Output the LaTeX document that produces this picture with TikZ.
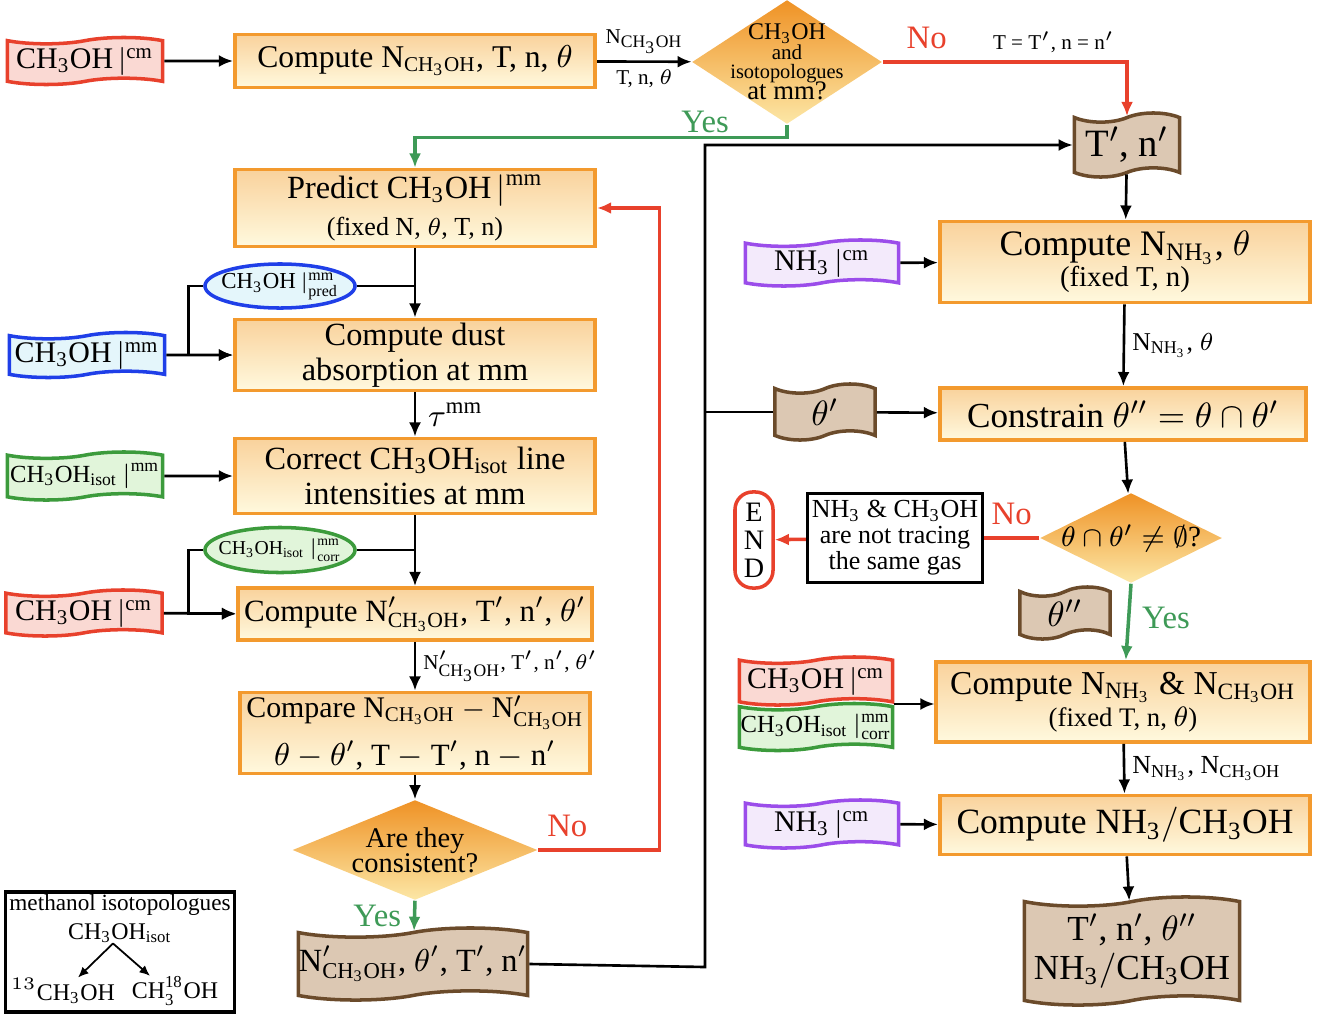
\documentclass[tikz,border=0pt]{standalone}
\usepackage{amsmath}
\usepackage{fontspec}
\setmainfont{Liberation Serif}
\usetikzlibrary{shapes.geometric,shapes.symbols,arrows.meta}

\definecolor{procb}{HTML}{F39A2E}
\definecolor{proct}{HTML}{F9D29C}
\definecolor{procf}{HTML}{FFF9DE}
\definecolor{dect}{HTML}{EF9225}
\definecolor{decf}{HTML}{FCE7A6}
\definecolor{redb}{HTML}{E8412C}
\definecolor{redf}{HTML}{FAD9D3}
\definecolor{blueb}{HTML}{1F3FE8}
\definecolor{bluef}{HTML}{E4F6FB}
\definecolor{greenb}{HTML}{3C9B3C}
\definecolor{greenf}{HTML}{E1F5DA}
\definecolor{purpb}{HTML}{9B4DEA}
\definecolor{purpf}{HTML}{F3EAFB}
\definecolor{brownb}{HTML}{6B4B2B}
\definecolor{brownf}{HTML}{DCC8B3}
\definecolor{yesc}{HTML}{3E9A57}
\definecolor{noc}{HTML}{E8412C}

\newcommand{\meoh}{\mathrm{CH_3OH}}
\newcommand{\isot}{\mathrm{CH_3OH_{isot}}}
\newcommand{\amm}{\mathrm{NH_3}}
\newcommand{\fs}[1]{\fontsize{#1}{#1}\selectfont}

\begin{document}
\begin{tikzpicture}[x=0.01cm, y=-0.01cm, font=\fs{9},
		proc/.style={rectangle, draw=procb, line width=1.1pt, top color=proct, bottom color=procf, inner sep=0pt, align=center},
		dec/.style={diamond, top color=dect, bottom color=decf, inner sep=0pt},
		tdoc/.style={tape, line width=1pt, inner sep=0pt, tape bend height=1.8pt, align=center, font=\fs{8.5}},
		reddoc/.style={tdoc, draw=redb, fill=redf},
		bluedoc/.style={tdoc, draw=blueb, fill=bluef},
		greendoc/.style={tdoc, draw=greenb, fill=greenf},
		purpdoc/.style={tdoc, draw=purpb, fill=purpf},
		browndoc/.style={tdoc, draw=brownb, fill=brownf, tape bend height=2.6pt},
		arr/.style={-{Latex[length=4pt,width=3.4pt]}, line width=0.75pt},
		yesl/.style={arr, draw=yesc, line width=1pt},
		nol/.style={arr, draw=noc, line width=1pt},
		lbl/.style={font=\fs{6}, inner sep=2pt},
		yes/.style={text=yesc, font=\fs{9.3}},
		no/.style={text=noc, font=\fs{9.3}}]
	\useasboundingbox (0,0) rectangle (1318,1015);

	% left column
	\node[reddoc, minimum width=1.55cm, minimum height=0.47cm] (c1d) at (85,61) {$\meoh\,|^{\mathrm{cm}}$};
	\node[proc, minimum width=3.6cm, minimum height=0.53cm] (c1) at (415,61) {Compute $\mathrm{N}_{\meoh}$, T, n, $\theta$};
	\node[dec, minimum width=1.9cm, minimum height=1.24cm,
		label={[align=center, font=\fs{7}, inner sep=0pt]center:{\fs{6.8}$\meoh$\\[-1.4pt]\fs{6}and\\[-1.6pt]\fs{5.8}isotopologues\\[-1pt]\fs{7.6}at mm?}}] (d1) at (787,62) {};
	\node[proc, minimum width=3.6cm, minimum height=0.77cm] (p1) at (415,208) {\fs{9.2}Predict $\meoh\,|^{\mathrm{mm}}$\\[1.5pt]\fs{7.4}(fixed N, $\theta$, T, n)};
	\node[ellipse, draw=blueb, fill=bluef, line width=1pt, minimum width=1.5cm, minimum height=0.44cm, inner sep=0pt,
		label={[font=\fs{6.5}, inner sep=0pt]center:{$\meoh\,|^{\mathrm{mm}}_{\mathrm{pred}}$}}] (e1) at (280,286) {};
	\node[bluedoc, minimum width=1.55cm, minimum height=0.45cm] (m1) at (87,355) {$\meoh\,|^{\mathrm{mm}}$};
	\node[proc, minimum width=3.6cm, minimum height=0.71cm] (cd) at (415,355) {\fs{9.2}Compute dust\\[1pt]\fs{9.2}absorption at mm};
	\node[proc, minimum width=3.6cm, minimum height=0.75cm] (cc) at (415,476) {\fs{9.2}Correct $\isot$ line\\[1pt]\fs{9.2}intensities at mm};
	\node[greendoc, minimum width=1.55cm, minimum height=0.48cm, font=\fs{7}] (i1) at (85,476) {$\isot\,|^{\mathrm{mm}}$};
	\node[ellipse, draw=greenb, fill=greenf, line width=1pt, minimum width=1.5cm, minimum height=0.45cm, inner sep=0pt,
		label={[font=\fs{5.6}, inner sep=0pt]center:{$\isot\,|^{\mathrm{mm}}_{\mathrm{corr}}$}}] (e2) at (280,550) {};
	\node[reddoc, minimum width=1.56cm, minimum height=0.46cm] (m3) at (84,613) {$\meoh\,|^{\mathrm{cm}}$};
	\node[proc, minimum width=3.54cm, minimum height=0.52cm] (cp) at (415,614) {\fs{8.8}Compute $\mathrm{N}'_{\meoh}$, T$'$, n$'$, $\theta'$};
	\node[proc, minimum width=3.5cm, minimum height=0.81cm] (cmp) at (415,733) {\fs{8.5}Compare $\mathrm{N}_{\meoh}-\mathrm{N}'_{\meoh}$\\[2pt]\fs{8.8}$\theta-\theta'$, T $-$ T$'$, n $-$ n$'$};
	\node[dec, minimum width=2.45cm, minimum height=1cm,
		label={[align=center, font=\fs{8.1}, inner sep=0pt]center:{Are they\\[-1pt]consistent?}}] (d3) at (415,850) {};
	\node[browndoc, minimum width=2.29cm, minimum height=0.72cm, font=\fs{9.2}] (nd) at (413,964) {$\mathrm{N}'_{\meoh}$, $\theta'$, T$'$, n$'$};
	\coordinate (tr) at (705,967);

	% legend
	\node[draw, line width=0.9pt, minimum width=2.29cm, minimum height=1.2cm] (lg) at (120,952) {};
	\node[font=\fs{6.6}, inner sep=0pt] (lg1) at (120,905) {methanol isotopologues};
	\node[font=\fs{6.8}, inner sep=0pt] (lg2) at (120,933) {$\isot$};
	\node[font=\fs{6.8}, inner sep=0pt] (lg3) at (63,991) {$^{13}\meoh$};
	\node[font=\fs{6.8}, inner sep=0pt] (lg4) at (175,991) {$\mathrm{CH_3^{18}OH}$};

	% right column
	\node[browndoc, minimum width=1.05cm, minimum height=0.64cm, font=\fs{11}] (tn) at (1127,145) {T$'$, n$'$};
	\node[proc, minimum width=3.7cm, minimum height=0.81cm] (cn) at (1125,262) {\fs{10.2}Compute $\mathrm{N}_{\amm}$, $\theta$\\[0pt]\fs{8.2}(fixed T, n)};
	\node[purpdoc, minimum width=1.53cm, minimum height=0.46cm] (nh1) at (822,263) {$\amm\,|^{\mathrm{cm}}$};
	\node[proc, minimum width=3.66cm, minimum height=0.52cm, font=\fs{10}] (cs) at (1123,414) {Constrain $\theta''=\theta\cap\theta'$};
	\node[browndoc, minimum width=1cm, minimum height=0.56cm, font=\fs{10}] (th1) at (825,412) {$\theta'$};
	\node[dec, minimum width=1.82cm, minimum height=0.9cm,
		label={[font=\fs{8.3}, inner sep=0pt]center:{$\theta\cap\theta'\neq\emptyset$?}}] (d2) at (1131,538) {};
	\node[draw, line width=0.9pt, fill=white, minimum width=1.75cm, minimum height=0.89cm, inner sep=0pt, align=center, font=\fs{7.4}] (ng) at (895,538) {$\amm$ \& $\meoh$\\[0pt]are not tracing\\[0pt]the same gas};
	\node[draw=noc, line width=1pt, rounded corners=5pt, minimum width=0.38cm, minimum height=0.96cm, inner sep=0pt, align=center, font=\fs{8}] (end) at (754,540) {E\\[0pt]N\\[0pt]D};
	\node[browndoc, minimum width=0.9cm, minimum height=0.52cm, font=\fs{10}] (th2) at (1065,613) {$\theta''$};
	\node[proc, minimum width=3.73cm, minimum height=0.8cm] (cb) at (1123,702) {\fs{9.5}Compute $\mathrm{N}_{\amm}$ \& $\mathrm{N}_{\meoh}$\\[0pt]\fs{7.6}(fixed T, n, $\theta$)};
	\node[reddoc, minimum width=1.53cm, minimum height=0.48cm] (m2) at (816,681) {$\meoh\,|^{\mathrm{cm}}$};
	\node[greendoc, minimum width=1.53cm, minimum height=0.47cm, font=\fs{7}] (i2) at (816,727) {$\isot\,|^{\mathrm{mm}}_{\mathrm{corr}}$};
	\node[proc, minimum width=3.7cm, minimum height=0.59cm, font=\fs{10.1}] (cr) at (1125,825) {Compute $\amm/\meoh$};
	\node[purpdoc, minimum width=1.53cm, minimum height=0.48cm] (nh2) at (822,824) {$\amm\,|^{\mathrm{cm}}$};
	\node[browndoc, minimum width=2.15cm, minimum height=1.08cm, font=\fs{10}] (fin) at (1132,951) {T$'$, n$'$, $\theta''$\\[1pt]$\amm/\meoh$};

	% connectors
	\draw[arr] (c1d) -- (c1);
	\draw[arr] (c1) -- node[lbl, above] {$\mathrm{N}_{\meoh}$} node[lbl, below] {T, n, $\theta$} (d1);
	\draw[nol] (d1.east) -| node[no, pos=0.09, above] {No} node[lbl, pos=0.35, above] {T = T$'$, n = n$'$} (tn.north);
	\draw[yesl] (d1.south) -- ++(0,13) -| node[yes, pos=0.11, above, inner sep=1pt] {Yes} (p1.north);
	\draw[arr] (p1) -- (cd);
	\draw (e1.east) -- (e1.east -| cd.north);
	\draw[arr] (e1.west) -- ++(-15,0) |- (cd.west);
	\draw[arr] (m1) -- (cd);
	\draw[arr] (cd) -- node[right, font=\fs{9.2}] {$\tau^{\mathrm{mm}}$} (cc);
	\draw[arr] (i1) -- (cc);
	\draw[arr] (cc) -- (cp);
	\draw (e2.east) -- (e2.east -| cp.north);
	\draw[arr] (e2.west) -- ++(-15,0) |- (cp.west);
	\draw[arr] (m3) -- (cp);
	\draw[arr] (cp) -- node[lbl, right] {$\mathrm{N}'_{\meoh}$, T$'$, n$'$, $\theta'$} (cmp);
	\draw[arr] (cmp) -- (d3);
	\draw[nol] (d3.east) -- node[no, pos=0.24, above] {No} ++(121,0) |- (p1.east);
	\draw[yesl] (d3.south) -- node[yes, left] {Yes} (nd);
	\draw[arr] (nd.east) -- (tr) |- (tn.west);
	\draw (th1.west) -- (th1.west -| tr);
	\draw[arr] (tn) -- (cn);
	\draw[arr] (nh1) -- (cn);
	\draw[arr] (cn) -- node[lbl, right, font=\fs{7.3}] {$\mathrm{N}_{\amm}$, $\theta$} (cs);
	\draw[arr] (th1) -- (cs);
	\draw[arr] (cs) -- (d2);
	\draw[draw=noc, line width=1pt] (d2.west) -- node[no, above] {No} (ng.east);
	\draw[nol] (ng) -- (end);
	\draw[yesl] (d2.south) -- node[yes, right, pos=0.45] {Yes} (cb);
	\draw[arr] (m2.south east) -- (m2.south east -| cb.west);
	\draw[arr] (cb) -- node[lbl, right, font=\fs{7.4}] {$\mathrm{N}_{\amm}$, $\mathrm{N}_{\meoh}$} (cr);
	\draw[arr] (nh2) -- (cr);
	\draw[arr] (cr) -- (fin);
	\draw[-{Latex[length=3pt,width=2.6pt]}, line width=0.5pt] ([xshift=-0.07cm]lg2.south) -- ([xshift=0.15cm]lg3.north);
	\draw[-{Latex[length=3pt,width=2.6pt]}, line width=0.5pt] ([xshift=-0.07cm]lg2.south) -- ([xshift=-0.25cm]lg4.north);
\end{tikzpicture}
\end{document}
